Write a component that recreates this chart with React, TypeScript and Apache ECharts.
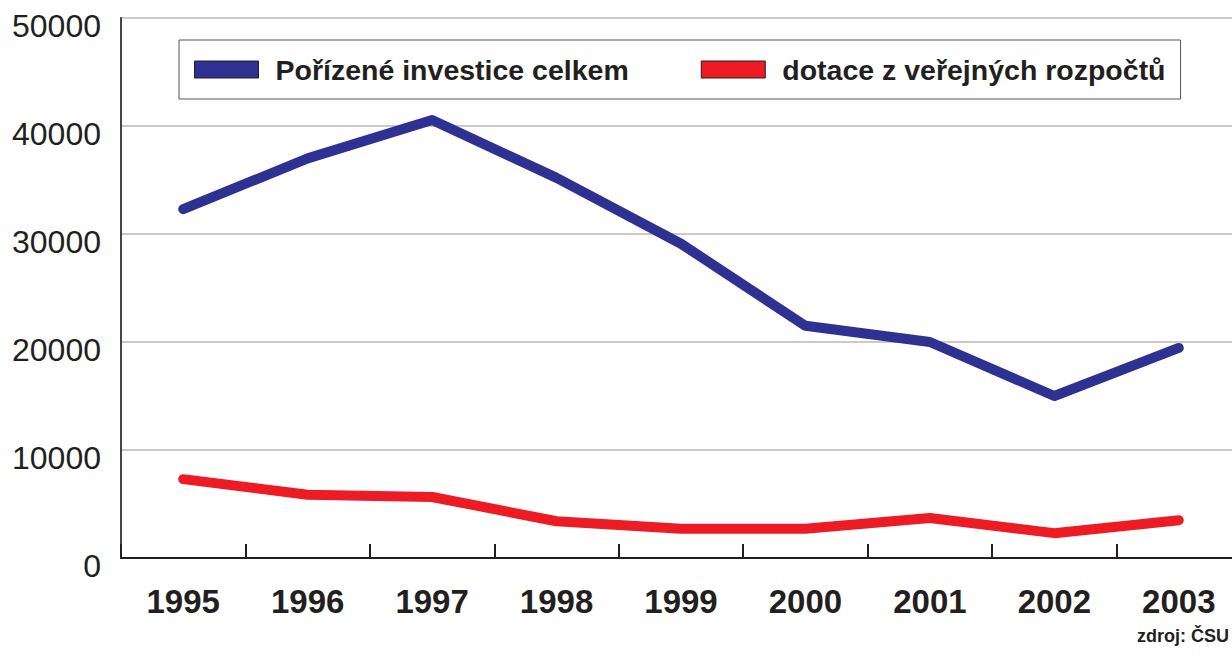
import React, { useEffect, useRef } from "react";
import * as echarts from "echarts";

const years = ["1995", "1996", "1997", "1998", "1999", "2000", "2001", "2002", "2003"];
const investice = [32300, 37000, 40550, 35200, 29100, 21500, 20000, 15000, 19450];
const dotace = [7300, 5850, 5650, 3400, 2700, 2700, 3700, 2300, 3500];
const seriesNames = ["Pořízené investice celkem", "dotace z veřejných rozpočtů"];
const source = "zdroj: ČSU";

export default function App() {
  const ref = useRef<HTMLDivElement>(null);
  useEffect(() => {
    if (!ref.current) return;
    const chart = echarts.init(ref.current, null, { renderer: "svg" });
    const font = "'Liberation Sans', Arial, Helvetica, sans-serif";
    chart.setOption({
      animation: false,
      backgroundColor: "#ffffff",
      textStyle: { fontFamily: font },
      grid: { left: 121, top: 18, height: 540, width: 1120, containLabel: false },
      legend: {
        left: 179,
        top: 40,
        padding: [15, 15, 15, 15],
        borderColor: "#555555",
        borderWidth: 1,
        itemGap: 72,
        itemWidth: 64,
        itemHeight: 17,
        icon: "rect",
        itemStyle: { borderColor: "#231f20", borderWidth: 1 },
        textStyle: { fontSize: 28.5, fontWeight: "bold", color: "#231f20", fontFamily: font, padding: [0, 0, 0, 12] },
        data: seriesNames,
      },
      xAxis: {
        type: "category",
        data: years,
        boundaryGap: true,
        axisLine: { lineStyle: { color: "#231f20", width: 2 } },
        axisTick: { show: true, interval: 0, inside: true, length: 14, lineStyle: { color: "#231f20", width: 2 } },
        axisLabel: { fontSize: 33, fontWeight: "bold", color: "#231f20", margin: 27, fontFamily: font },
        splitLine: { show: false },
      },
      yAxis: {
        type: "value",
        min: 0,
        max: 50000,
        interval: 10000,
        axisLine: { show: true, lineStyle: { color: "#444444", width: 2 } },
        axisTick: { show: false },
        axisLabel: {
          fontSize: 32,
          color: "#231f20",
          margin: 20,
          fontFamily: font,
          verticalAlign: "top",
          lineHeight: 16,
          formatter: (v: number) => String(v),
        },
        splitLine: { lineStyle: { color: "#b8b8b8", width: 1.5 } },
      },
      series: [
        {
          name: seriesNames[0],
          type: "line",
          data: investice,
          symbol: "none",
          color: "#2e3192",
          lineStyle: { width: 10, color: "#2e3192", cap: "round", join: "round" },
        },
        {
          name: seriesNames[1],
          type: "line",
          data: dotace,
          symbol: "none",
          color: "#ed1c24",
          lineStyle: { width: 10, color: "#ed1c24", cap: "round", join: "round" },
        },
      ],
      graphic: [
        {
          type: "text",
          left: 1137,
          top: 627,
          style: { text: source, fontSize: 18, fontWeight: "bold", fill: "#231f20", fontFamily: font },
        },
      ],
    });
    return () => chart.dispose();
  }, []);
  return (
    <div style={{ width: 1232, height: 658, position: "absolute", left: 0, top: 0, overflow: "hidden" }}>
      <div ref={ref} style={{ width: 1250, height: 658 }} />
    </div>
  );
}
